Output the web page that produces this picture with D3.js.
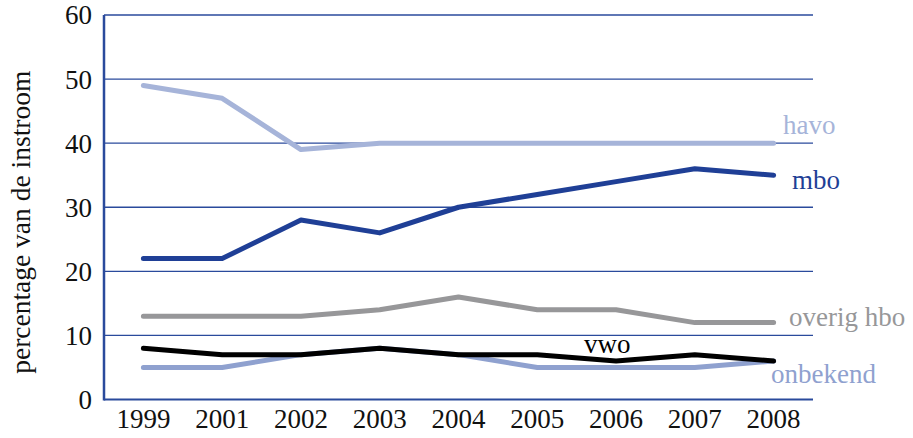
<!DOCTYPE html>
<html>
<head>
<meta charset="utf-8">
<script src="https://cdn.jsdelivr.net/npm/d3@7"></script>
<style>
  body { margin: 0; background: #fff; }
</style>
</head>
<body>
<div class="mainDiv"></div>
<script>
// data
const years = ["1999", "2001", "2002", "2003", "2004", "2005", "2006", "2007", "2008"];
const yTicks = [0, 10, 20, 30, 40, 50, 60];

const havo     = [49, 47, 39, 40, 40, 40, 40, 40, 40];
const mbo      = [22, 22, 28, 26, 30, 32, 34, 36, 35];
const overig   = [13, 13, 13, 14, 16, 14, 14, 12, 12];
const onbekend = [5, 5, 7, 8, 7, 5, 5, 5, 6];
const vwo      = [8, 7, 7, 8, 7, 7, 6, 7, 6];

const seriesNames = ["havo", "mbo", "overig hbo", "onbekend", "vwo"];

const width = 913, height = 438;
const margin = {top: 15, right: 100, bottom: 38, left: 104};
const font = "'Liberation Serif', 'Times New Roman', serif";

const svg = d3.select('.mainDiv').append('svg')
  .attr('width', width).attr('height', height)
  .attr('font-family', font);

const x = d3.scaleBand()
  .domain(years)
  .range([margin.left, width - margin.right]);

const y = d3.scaleLinear()
  .domain([0, 60])
  .range([height - margin.bottom - 0.5, margin.top]);

const gridColor = "#2a4a9c";

// gridlines
svg.append('g').selectAll('line')
  .data(yTicks)
  .join('line')
  .attr('x1', margin.left)
  .attr('x2', width - margin.right)
  .attr('y1', d => y(d))
  .attr('y2', d => y(d))
  .attr('stroke', gridColor)
  .attr('stroke-width', d => d === 0 ? 2 : 1.3);

// left axis line
svg.append('line')
  .attr('x1', margin.left).attr('x2', margin.left)
  .attr('y1', y(60)).attr('y2', y(0) + 1)
  .attr('stroke', gridColor)
  .attr('stroke-width', 2.5);

// y tick labels
svg.append('g').selectAll('text')
  .data(yTicks)
  .join('text')
  .attr('x', margin.left - 12)
  .attr('y', d => y(d))
  .attr('dy', '0.35em')
  .attr('text-anchor', 'end')
  .attr('font-family', font)
  .attr('font-size', 27)
  .attr('fill', '#111')
  .text(d => d);

// x tick labels
svg.append('g').selectAll('text')
  .data(years)
  .join('text')
  .attr('x', d => x(d) + x.bandwidth() / 2)
  .attr('y', height - 10)
  .attr('text-anchor', 'middle')
  .attr('font-family', font)
  .attr('font-size', 27)
  .attr('fill', '#111')
  .text(d => d);

// y axis title
svg.append('text')
  .attr('transform', 'translate(30,' + (y(30) + 15) + ') rotate(-90)')
  .attr('text-anchor', 'middle')
  .attr('font-family', font)
  .attr('font-size', 27.5)
  .attr('fill', '#111')
  .text('percentage van de instroom');

const line = d3.line()
  .x((d, i) => x(years[i]) + x.bandwidth() / 2)
  .y(d => y(d));

const series = [
  {name: "havo", values: havo, color: "#a6b4d9", lx: 783, ly: 134},
  {name: "mbo", values: mbo, color: "#1f3f96", lx: 792, ly: 189},
  {name: "overig hbo", values: overig, color: "#979799", lx: 789, ly: 326},
  {name: "onbekend", values: onbekend, color: "#8fa1cf", lx: 771, ly: 383},
  {name: "vwo", values: vwo, color: "#000000", lx: 584, ly: 353}
];

svg.append('g').selectAll('path')
  .data(series)
  .join('path')
  .attr('d', d => line(d.values))
  .attr('fill', 'none')
  .attr('stroke', d => d.color)
  .attr('stroke-width', 5)
  .attr('stroke-linecap', 'round')
  .attr('stroke-linejoin', 'round');

svg.append('g').selectAll('text')
  .data(series)
  .join('text')
  .attr('x', d => d.lx)
  .attr('y', d => d.ly)
  .attr('font-family', font)
  .attr('font-size', 27)
  .attr('fill', d => d.color)
  .text(d => d.name);
</script>
</body>
</html>
